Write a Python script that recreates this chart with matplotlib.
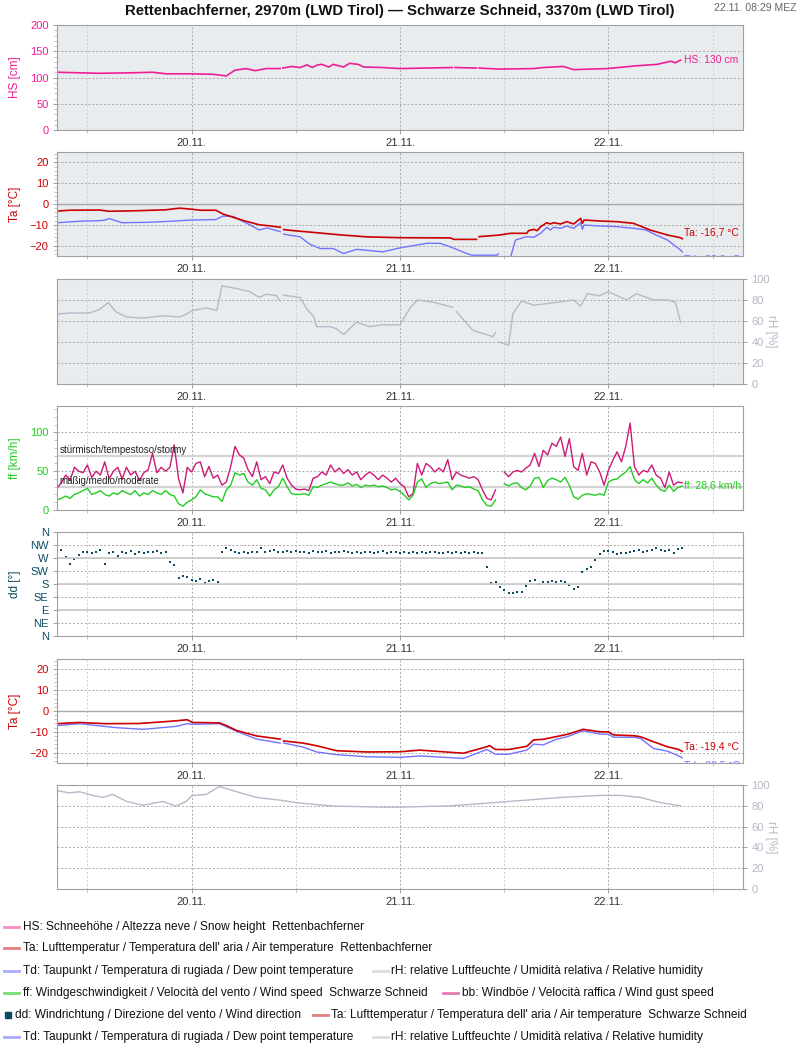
import matplotlib
matplotlib.use("Agg")
import matplotlib.pyplot as plt
import numpy as np
from matplotlib.lines import Line2D
from matplotlib.ticker import MultipleLocator

plt.rcParams['font.family'] = ['Liberation Sans', 'DejaVu Sans']

# time axis: hours relative to 20.11. 00:00
t_start, t_end = -15.5, 63.5
day_ticks = [0, 24, 48]
day_labels = ['20.11.', '21.11.', '22.11.']
half_ticks = [-12, 12, 36, 60]

# --- Rettenbachferner: snow height (hour, cm)
hs_t = [-15.5, -10.6, -6.8, -4.5, -2.9, 0, 2.5, 4, 5, 6.3, 7.3, 8.6, 10.2, np.nan, 10.5, 11.5, 12.5, 13.3,
        13.9, 14.5, 15, 15.8, 16.3, 17.5, 18.2, 19.2, 19.8, 22, 24, 30, np.nan, 30.3, 32.8, np.nan, 33.1,
        35.5, 39.4, 40.5, 42.8, 44, 47.9, 51, 53.6, 55.2, 55.7, 56.3]
hs_v = [110, 108, 109, 110, 107, 107, 106, 103, 114, 117, 113, 117, 117, np.nan, 118, 121, 119, 124,
        119, 124, 125, 120, 125, 120, 127, 125, 120, 119, 117, 119, np.nan, 119, 118, np.nan, 118,
        116, 117, 119, 121, 115, 117, 122, 125, 131, 128, 133]

# --- Rettenbachferner: air temperature / dew point (hour, °C)
ta1_t = [-15.5, -14, -10.6, -9.5, -6, -3, -1.4, 0, 1, 2.8, 3.6, 4.8, 6, 7.8, 9, 10.2, np.nan, 10.6, 11.7,
         14.4, 17, 20.2, 24, 29.8, 30.2, 32.8, np.nan, 33.1, 35.5, 36.7, 38.6, 38.8, 39.4, 39.8, 40.2,
         40.9, 41.3, 41.7, 42.5, 43.2, 44, 44.8, 45, 45.2, 47.1, 49, 50.9, 52.8, 54.8, 56.3, 56.5]
ta1_v = [-3.4, -3, -2.9, -3.5, -3.2, -2.8, -2, -2.5, -3, -3, -4.8, -6.4, -8, -10, -10.5, -11.2, np.nan,
         -12.3, -12.8, -13.8, -14.8, -15.8, -16.2, -16.3, -17, -17, np.nan, -15.7, -14.9, -14.1, -14.1,
         -12.8, -12.2, -12.8, -10.9, -9, -9.6, -9, -9.6, -8.5, -9.6, -6.9, -9.3, -7.7, -8.2, -8.5, -9.3,
         -12.5, -14.9, -16.2, -16.7]
td1_t = [-15.5, -13, -10.6, -10, -9.5, -8, -5, -2, 0, 2.8, 3.6, 4.8, 6.7, 7.8, 8.7, 10.2, np.nan, 10.6,
         12.5, 13.6, 14.8, 16.3, 17.5, 19, 22, 24, 27.1, 28.6, 29.8, 31.7, 32.3, 35.2, 35.3, np.nan, 36.7,
         37.3, 38.6, 39.4, 40.2, 40.9, 41.3, 41.7, 42.5, 43.2, 44, 44.8, 45, 45.2, 47.1, 49, 50.9, 52.3,
         53.5, 54.8, 56.3, 56.5]
td1_v = [-9, -8.3, -8, -7.8, -7, -9, -8.8, -8.2, -7.7, -7.5, -5.8, -6, -10, -12.5, -11.5, -13.3, np.nan,
         -14.5, -15.8, -19.3, -21.4, -21.4, -23.8, -21.8, -23, -21.1, -18.9, -18.9, -20.6, -23.8, -24.6,
         -24.6, -24, np.nan, -26, -17.3, -15.7, -16, -14.1, -11.2, -12.5, -11.2, -11.7, -10.6, -11.7, -9,
         -12.2, -10.1, -10.6, -10.9, -11.7, -12.5, -14.9, -17.3, -22.1, -23]

# --- Rettenbachferner: relative humidity (hour, %)
rh1_t = [-15.6, -14.1, -11.8, -10.6, -9.6, -8.7, -7.5, -5.6, -3.3, -1.4, -0.6, 0.1, 1.7, 2.9, 3.5, 5.2,
         6.7, 7.8, 8.6, 9.8, 10.2, np.nan, 10.6, 12.5, 13.3, 14.1, 14.4, 15.9, 16.7, 17.5, 19, 20.5, 22,
         24, 25.2, 26, 27.8, 30.1, np.nan, 30.5, 32.4, 34, 34.7, 35, np.nan, 35.4, 36.5, 37, 38, 39.4,
         41.3, 44, 44.8, 45.6, 47, 48, 50.1, 51.2, 53.2, 54.8, 55.7, 56.3]
rh1_v = [66.5, 67.6, 67.6, 71, 77.5, 68.7, 63.8, 62.8, 65, 63.8, 66.5, 70, 72.4, 70, 93.5, 90.9,
         88, 82.4, 85.6, 84, 78.7, np.nan, 84.6, 82.4, 71, 63.8, 54.6, 54.6, 52.7, 47.1, 59, 54.6, 56.4,
         56.4, 73, 80, 78, 73, np.nan, 69, 51, 47, 45, 49, np.nan, 40, 37, 67, 79, 75,
         77, 80, 74, 86, 84, 88, 80, 86, 80, 80, 78, 59]

# --- Schwarze Schneid: wind speed / gust, 30 min values from 19.11. 08:30
wind_t = np.arange(-15.5, 56.51, 0.5)
bb = [28, 35, 45, 38, 55, 50, 48, 58, 42, 50, 45, 62, 40, 50, 55, 40, 55, 45, 50, 38, 48, 52, 73, 48,
      55, 50, 55, 84, 40, 22, 55,
      49, 60, 62, 43, 56, 41, 45, 32, 36, 56, 82, 71, 67, 52, 43, 62, 39, 43, 34, 49, 47, 58, 41, 32,
      27, 26, 27, 25, 41, 43, 49, 45, 58, 49, 54, 47, 52, 45, 49, 39, 45, 49, 45, 39, 45, 41, 36, 41,
      34, 30, 17, 21, 60, 45, 60, 56, 49, 54, 49, 65, 39, 49, 45, 43, 41, 43, 39, 26, 15, 13, 26,
      np.nan, 49, 43, 49, 51, 49, 54, 58, 73, 56, 77, 71, 86, 82, 94, 69, 92, 56, 51, 73, 45, 62, 60,
      49, 32, 51, 64, 75, 62, 82, 112, 56, 45, 51, 49, 58, 45, 41, 29, 49, 32, 36, 35]
ff = [13, 15, 18, 15, 20, 22, 25, 28, 20, 22, 25, 20, 18, 22, 20, 25, 22, 20, 25, 18, 22, 20, 25, 22,
      20, 25, 20, 18, 8, 5, 10,
      13, 17, 26, 21, 19, 17, 17, 11, 26, 32, 48, 45, 47, 36, 32, 39, 28, 26, 18, 26, 30, 41, 30, 21,
      20, 20, 21, 19, 30, 29, 32, 34, 36, 34, 32, 32, 35, 31, 33, 29, 32, 31, 32, 30, 31, 29, 26, 27,
      24, 19, 13, 19, 36, 40, 29, 34, 36, 34, 35, 36, 26, 32, 31, 29, 30, 27, 25, 13, 6, 5, 13,
      np.nan, 34, 31, 34, 35, 29, 26, 31, 41, 42, 29, 38, 41, 39, 36, 42, 32, 17, 14, 19, 21, 20, 19,
      21, 19, 36, 39, 40, 45, 49, 56, 39, 34, 39, 35, 41, 32, 26, 24, 32, 24, 29, 31]

# --- Schwarze Schneid: wind direction (deg), same 30 min grid
dd = [304, 296, 272, 250, 268, 282, 290, 292, 288, 290, 296, 250, 288, 292, 278, 290, 286, 295, 284,
      290, 288, 292, 290, 294, 288, 290, 256, 245, 200, 208, 205,
      194, 191, 197, 183, 191, 194, 188, 290, 304, 296, 292, 288, 292, 288, 290, 292, 304, 292, 294,
      296, 292, 292, 295, 292, 295, 290, 292, 288, 294, 292, 290, 295, 288, 292, 290, 294, 290, 288,
      292, 286, 290, 292, 288, 290, 294, 288, 292, 290,
      288, 290, 286, 292, 288, 290, 286, 290, 292, 288, 286, 290, 288, 292, 286, 290, 288, 290, 286,
      288, 240, 185, 187, 168, 160, 148, 150, 152, 152, 172, 190, 194, 180, 188, 186, 190, 188, 190,
      186, 175, 162, 168, 222, 232, 240, 262, 285, 295, 294, 290, 285, 287, 288, 290, 294, 296, 292,
      295, 298, 304, 296, 294, 296, 288, 300, 304]

# --- Schwarze Schneid: air temperature / dew point (hour, °C)
ta2_t = [-15.5, -12.9, -10, -6, -2, -0.5, 0.1, 3.2, 4, 5.2, 7.5, 10.2, np.nan, 10.6, 12.8, 14.4, 16.7,
         20.2, 24, 26.3, 31.3, 34, 34.3, 35, 36.5, 38.6, 39.4, 40.5, 42, 43.3, 45.1, 47, 48, 48.6, 51,
         51.7, 53.2, 54.8, 56.1, 56.5]
ta2_v = [-6.1, -5.5, -6.1, -6, -4.8, -4.2, -5.5, -5.7, -7, -9.4, -12, -13.5, np.nan, -14.4, -15.4,
         -16.7, -19.1, -19.7, -19.6, -18.8, -20.3, -17.2, -16.6, -18.5, -18.5, -17, -13.9, -13.6, -12.3,
         -11.2, -8.8, -10, -10, -11.5, -11.9, -12.4, -14.8, -17.2, -18.5, -19.4]
td2_t = [-15.5, -12.9, -8.7, -5.6, -1.8, -0.5, 0.1, 3.2, 5.2, 7.5, 10.2, np.nan, 10.6, 12.8, 14.4, 16.7,
         20.2, 24, 26.3, 31.3, 34, 35, 36.5, 38.6, 39.4, 40.5, 42, 43.3, 45.1, 47, 48, 48.6, 51, 51.7,
         53.2, 54.8, 56.3, 56.5]
td2_v = [-7, -6.1, -8, -8.8, -7.4, -6.1, -6.4, -6.1, -9.8, -13.5, -15.4, np.nan, -15.4, -17.3, -19.7,
         -21, -22, -22.3, -21.6, -22.8, -18.5, -20.8, -20.8, -18.8, -15.9, -16.3, -13.6, -12.3, -9.5,
         -11.1, -11.1, -12.6, -12.6, -13.2, -18, -19.3, -22, -22.5]

# --- Schwarze Schneid: relative humidity (hour, %)
rh2_t = [-15.6, -14.1, -12.9, -11.3, -10.2, -9.1, -7.5, -5.6, -3.3, -1.8, -0.6, 0, 1.7, 3.2, 5.2, 7.5,
         10.2, 12.5, 16.3, 22, 24, 29.8, 33.2, 37.8, 42.5, 47.1, 49.4, 51.7, 54, 56.3]
rh2_v = [94.7, 92.5, 93.5, 89.8, 88, 91, 84.2, 80.5, 84.2, 79.8, 84.2, 89.8, 91, 98.5, 93.5, 88,
         85.4, 82.6, 79.8, 78.7, 78.7, 80, 82, 85, 88, 90, 90, 88, 83, 80]

c_hs = '#ee1e96'
c_ta = '#cc0000'
c_td = '#7373ff'
c_rh = '#b8b8c8'
c_ff = '#22cc22'
c_bb = '#cc1a78'
c_dd = '#0b4a62'
bg_grey = '#e8ecef'

fig = plt.figure(figsize=(8, 10.5), dpi=100)
W, H = 800.0, 1050.0
L, R = 57, 743
panels_px = [(25, 130), (152, 256), (279, 384), (406, 510), (532, 636), (659, 763), (785, 889)]


def make_ax(top, bottom):
    return fig.add_axes([L / W, 1 - bottom / H, (R - L) / W, (bottom - top) / H])


def setup(ax, ylim, yticks, ylabel, color, bg='white', right=False, yticklabels=None, minor=None):
    ax.set_facecolor(bg)
    ax.set_xlim(t_start, t_end)
    ax.set_ylim(*ylim)
    ax.set_xticks(day_ticks)
    ax.set_xticklabels(day_labels)
    ax.set_xticks(half_ticks, minor=True)
    ax.set_yticks(yticks)
    if yticklabels is not None:
        ax.set_yticklabels(yticklabels)
    if minor:
        ax.yaxis.set_minor_locator(MultipleLocator(minor))
    ax.grid(True, which='major', color='#a8a8a8', ls=(0, (2, 2)), lw=0.7)
    ax.grid(True, which='minor', axis='x', color='#d0d0d0', ls=(0, (2, 2)), lw=0.7)
    ax.set_axisbelow(True)
    for s in ax.spines.values():
        s.set_color('#a0a0a0')
    ax.tick_params(axis='both', which='major', colors='#a0a0a0', length=3, width=0.7)
    ax.tick_params(axis='both', which='minor', colors='#b8b8b8', length=2, width=0.6)
    ax.tick_params(axis='x', labelcolor='#333333', labelsize=8, pad=3)
    ax.tick_params(axis='y', labelcolor=color, labelsize=8, pad=3)
    if right:
        ax.yaxis.tick_right()
        ax.yaxis.set_label_position('right')
        ax.set_ylabel(ylabel, color=color, fontsize=8.5, rotation=270)
        ax.yaxis.set_label_coords(1.05, 0.5)
    else:
        ax.set_ylabel(ylabel, color=color, fontsize=8.5)
        ax.yaxis.set_label_coords(-0.053, 0.5)


axes = [make_ax(*p) for p in panels_px]

# 1 snow height
ax = axes[0]
setup(ax, (0, 200), [0, 50, 100, 150, 200], 'HS [cm]', c_hs, bg_grey, minor=10)
ax.plot(hs_t, hs_v, color=c_hs, lw=1.2)
ax.text(56.7, 133, 'HS: 130 cm', color=c_hs, fontsize=7.5, va='center')

# 2 temperature Rettenbachferner
ax = axes[1]
setup(ax, (-25, 25), [-20, -10, 0, 10, 20], 'Ta [°C]', c_ta, bg_grey, minor=2)
ax.axhline(0, color='#a8a8a8', lw=1.0)
ax.plot(td1_t, td1_v, color=c_td, lw=1.0)
ax.plot(ta1_t, ta1_v, color=c_ta, lw=1.2)
ax.text(56.7, -13.7, 'Ta: -16,7 °C', color=c_ta, fontsize=7.5, va='center')
ax.text(56.7, -24.3, 'Td: -23,0 °C', color=c_td, fontsize=7.5, va='top', clip_on=True)

# 3 humidity Rettenbachferner
ax = axes[2]
setup(ax, (0, 100), [0, 20, 40, 60, 80, 100], 'rH [%]', c_rh, bg_grey, right=True)
ax.plot(rh1_t, rh1_v, color=c_rh, lw=1.0)

# 4 wind speed / gusts
ax = axes[3]
setup(ax, (0, 134), [0, 50, 100], 'ff [km/h]', c_ff, minor=10)
ax.axhline(70, color='#d4d4d4', lw=1.6)
ax.axhline(30, color='#d4d4d4', lw=1.6)
ax.text(-15.2, 71.5, 'stürmisch/tempestoso/stormy', color='#222222', fontsize=7, va='bottom')
ax.text(-15.2, 31.5, 'mäßig/medio/moderate', color='#222222', fontsize=7, va='bottom')
ax.plot(wind_t, bb, color=c_bb, lw=1.0)
ax.plot(wind_t, ff, color=c_ff, lw=1.0)
ax.text(56.7, 31, 'ff: 28,6 km/h', color=c_ff, fontsize=7.5, va='center')

# 5 wind direction
ax = axes[4]
setup(ax, (0, 360), [0, 45, 90, 135, 180, 225, 270, 315, 360], 'dd [°]', c_dd,
      yticklabels=['N', 'NE', 'E', 'SE', 'S', 'SW', 'W', 'NW', 'N'])
for d in [90, 180, 270]:
    ax.axhline(d, color='#c8c8c8', lw=1.2)
ax.scatter(wind_t, dd, s=4.5, marker='s', color=c_dd, linewidths=0)

# 6 temperature Schwarze Schneid
ax = axes[5]
setup(ax, (-25, 25), [-20, -10, 0, 10, 20], 'Ta [°C]', c_ta, minor=2)
ax.axhline(0, color='#a8a8a8', lw=1.0)
ax.plot(td2_t, td2_v, color=c_td, lw=1.0)
ax.plot(ta2_t, ta2_v, color=c_ta, lw=1.2)
ax.text(56.7, -17, 'Ta: -19,4 °C', color=c_ta, fontsize=7.5, va='center')
ax.text(56.7, -23.6, 'Td: -22,5 °C', color=c_td, fontsize=7.5, va='top', clip_on=True)

# 7 humidity Schwarze Schneid
ax = axes[6]
setup(ax, (0, 100), [0, 20, 40, 60, 80, 100], 'rH [%]', c_rh, right=True)
ax.plot(rh2_t, rh2_v, color=c_rh, lw=1.0)

# title and timestamp
fig.text(0.5, 1 - 11 / H, 'Rettenbachferner, 2970m (LWD Tirol) \u2014 Schwarze Schneid, 3370m (LWD Tirol)',
         ha='center', va='center', fontsize=10.7, fontweight='bold', color='#111111')
fig.text(797 / W, 1 - 8 / H, '22.11. 08:29 MEZ', ha='right', va='center', fontsize=7.5, color='#666666')

# legend
legend_rows = [
    (927, [('line', '#f58cc6', 4, 23, 'HS: Schneehöhe / Altezza neve / Snow height  Rettenbachferner')]),
    (948, [('line', '#e58080', 4, 23, 'Ta: Lufttemperatur / Temperatura dell\' aria / Air temperature  Rettenbachferner')]),
    (971, [('line', '#aaaaff', 4, 23, 'Td: Taupunkt / Temperatura di rugiada / Dew point temperature'),
           ('line', '#dcdce4', 373, 391, 'rH: relative Luftfeuchte / Umidità relativa / Relative humidity')]),
    (993, [('line', '#77dd77', 4, 23, 'ff: Windgeschwindigkeit / Velocità del vento / Wind speed  Schwarze Schneid'),
           ('line', '#e07ab0', 443, 462, 'bb: Windböe / Velocità raffica / Wind gust speed')]),
    (1015, [('square', c_dd, 5, 15, 'dd: Windrichtung / Direzione del vento / Wind direction'),
            ('line', '#e58080', 313, 331, 'Ta: Lufttemperatur / Temperatura dell\' aria / Air temperature  Schwarze Schneid')]),
    (1037, [('line', '#aaaaff', 4, 23, 'Td: Taupunkt / Temperatura di rugiada / Dew point temperature'),
            ('line', '#dcdce4', 373, 391, 'rH: relative Luftfeuchte / Umidità relativa / Relative humidity')]),
]
for y, items in legend_rows:
    yf = 1 - y / H
    for kind, col, x0, xt, label in items:
        if kind == 'line':
            fig.add_artist(Line2D([x0 / W, (x0 + 15) / W], [yf, yf], color=col, lw=2))
        else:
            fig.add_artist(Line2D([(x0 + 2.5) / W], [yf], marker='s', markersize=4.5, color=col, lw=0))
        fig.text(xt / W, yf, label, ha='left', va='center', fontsize=8.6, color='#111111')

fig.savefig('out.png', dpi=100)
